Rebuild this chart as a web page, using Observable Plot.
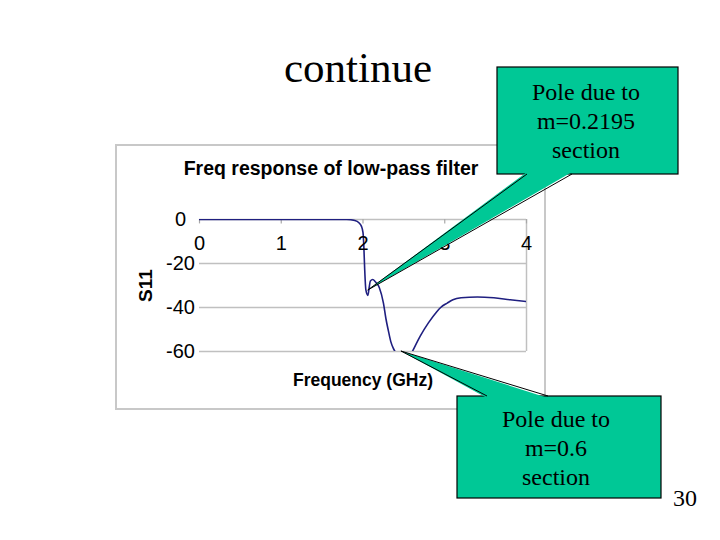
<!DOCTYPE html>
<html><head><meta charset="utf-8">
<script src="https://cdn.jsdelivr.net/npm/d3@7"></script>
<script src="https://cdn.jsdelivr.net/npm/@observablehq/plot@0.6"></script>
<style>
html,body{margin:0;padding:0;background:#fff;}
#slide{position:relative;width:720px;height:540px;overflow:hidden;background:#fff;}
#frame{position:absolute;left:115px;top:144px;width:431px;height:266px;box-sizing:border-box;border:2px solid #c8c8c8;}
#chart{position:absolute;left:115px;top:144px;}
#overlay{position:absolute;left:0;top:0;}
</style>
</head><body>
<div id="slide">
  <div id="frame"></div>
  <div id="chart"></div>
</div>
<script>
// ---- data ----
const freq = [0, 0.5, 1.0, 1.5, 1.8, 1.9, 1.95, 1.98, 2.0, 2.01, 2.02, 2.035, 2.06, 2.075, 2.09, 2.12, 2.15, 2.2, 2.25, 2.28, 2.31, 2.34, 2.37, 2.40, 2.45, 2.5, 2.55, 2.6, 2.7, 2.8, 2.9, 2.95, 3.03, 3.1, 3.2, 3.4, 3.6, 3.8, 4.0];
const s11  = [0, 0, 0, 0, 0, -0.5, -1.5, -3, -6, -12, -22, -32, -34.5, -31, -28, -27.3, -28.3, -31, -38, -45, -50.5, -55.5, -58.5, -60.5, -64, -66, -64, -60.3, -53, -47, -42, -40, -38, -36.5, -35.6, -35.2, -35.6, -36.5, -37.3];
const xTicks = [0, 1, 2, 3, 4];
const yTicks = [0, -20, -40, -60];
const chartTitle = "Freq response of low-pass filter";
const xLabel = "Frequency (GHz)";
const yLabel = "S11";
const slideTitle = "continue";
const pageNumber = "30";
const calloutTexts = [["Pole due to", "m=0.2195", "section"], ["Pole due to", "m=0.6", "section"]];
const calloutTips = [{f: 2.064, s: -32.3}, {f: 2.47, s: -60}];

const data = freq.map((f, i) => ({f, s: s11[i]}));

const chart = Plot.plot({
  width: 431, height: 266,
  marginLeft: 84, marginRight: 20, marginTop: 75, marginBottom: 59,
  x: {domain: [0, 4], axis: null},
  y: {domain: [-60, 0], axis: null},
  style: {fontFamily: "Arial, 'Liberation Sans', sans-serif", background: "transparent", overflow: "visible", color: "#000"},
  marks: [
    Plot.ruleY(yTicks, {y: d => d, stroke: "#c0c0c0", strokeWidth: 1.5}),
    Plot.ruleX([4], {x: d => d, stroke: "#c0c0c0", strokeWidth: 1.5}),
    Plot.ruleX(xTicks, {x: d => d, y1: 0, y2: -2, stroke: "#a8a8a8", strokeWidth: 1.2}),
    Plot.line(data, {x: "f", y: "s", stroke: "#1f1f80", strokeWidth: 1.6, curve: "monotone-x", clip: true}),
    Plot.text(xTicks, {x: d => d, y: 0, dy: 24, text: d => String(d), fontSize: 20, fill: "#000"}),
    Plot.text(yTicks, {y: d => d, frameAnchor: "left", dx: -19, text: d => String(d), fontSize: 20, textAnchor: "middle", fill: "#000"}),
    Plot.text([chartTitle], {frameAnchor: "top", lineAnchor: "middle", dy: -51, dx: -32, text: d => d, fontSize: 19.5, fontWeight: "bold", fill: "#000"}),
    Plot.text([yLabel], {frameAnchor: "left", lineAnchor: "middle", textAnchor: "middle", dx: -54, rotate: -90, text: d => d, fontSize: 19, fontWeight: "bold", fill: "#000"}),
    Plot.text([xLabel], {frameAnchor: "bottom", lineAnchor: "middle", dy: 29, text: d => d, fontSize: 17.5, fontWeight: "bold", fill: "#000"})
  ]
});
document.getElementById("chart").appendChild(chart);

// ---- overlay: slide title, callouts, page number ----
const ox = 115, oy = 144;
const sx = chart.scale("x"), sy = chart.scale("y");
const tips = calloutTips.map(t => [ox + sx.apply(t.f), oy + sy.apply(t.s)]);

const boxes = [
  {x: 497, y: 67, w: 181, h: 107, cx: 586, ty: [92, 121, 150], base: [[527, 174], [572, 174]], side: 1},
  {x: 457, y: 396, w: 204, h: 102, cx: 556, ty: [419, 448, 477], base: [[487, 396], [548, 396]], side: -1}
];

const svg = d3.select("#slide").append("svg").attr("id", "overlay")
  .attr("width", 720).attr("height", 540);
const serif = "'Times New Roman', 'Liberation Serif', serif";

svg.append("text").attr("x", 284).attr("y", 82).attr("font-family", serif)
  .attr("font-size", 43).attr("fill", "#000").text(slideTitle);
svg.append("text").attr("x", 685).attr("y", 506).attr("text-anchor", "middle").attr("font-family", serif)
  .attr("font-size", 24).attr("fill", "#000").text(pageNumber);

const teal = "#00c896";
boxes.forEach((b, i) => {
  const g = svg.append("g");
  g.append("rect").attr("x", b.x).attr("y", b.y).attr("width", b.w).attr("height", b.h)
    .attr("fill", teal).attr("stroke", "#000").attr("stroke-width", 1.2);
  const tip = tips[i];
  const [p1, p2] = b.base;
  const inset = b.side * 2;
  g.append("polygon")
    .attr("points", [[p1[0], p1[1] - inset], [p2[0], p2[1] - inset], tip].map(p => p.join(",")).join(" "))
    .attr("fill", teal);
  g.append("line").attr("x1", p1[0]).attr("y1", p1[1]).attr("x2", tip[0]).attr("y2", tip[1])
    .attr("stroke", "#000").attr("stroke-width", 1);
  g.append("line").attr("x1", p2[0]).attr("y1", p2[1]).attr("x2", tip[0]).attr("y2", tip[1])
    .attr("stroke", "#000").attr("stroke-width", 1);
  calloutTexts[i].forEach((t, j) => {
    g.append("text").attr("x", b.cx).attr("y", b.ty[j]).attr("dy", "0.35em")
      .attr("text-anchor", "middle").attr("font-family", serif).attr("font-size", 24)
      .attr("fill", "#000").text(t);
  });
});
</script>
</body></html>
